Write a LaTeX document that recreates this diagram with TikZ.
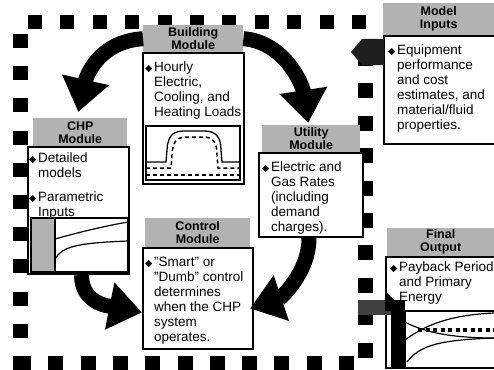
\documentclass[tikz,border=0pt]{standalone}
\usepackage{fontspec}
\setmainfont{Liberation Sans}
\newfontfamily\symf{DejaVu Sans}
\usetikzlibrary{arrows.meta}
\newcommand\dia{\makebox[9pt][l]{\symf\fontsize{9.5}{9.5}\selectfont\raisebox{0.3pt}{◆}}}
\newcommand\ind{\hspace*{9pt}}
\tikzset{
  hdr/.style={fill=black!30, font=\fontsize{12.5}{13}\selectfont\bfseries, align=center, inner sep=0pt, anchor=north west},
  modbox/.style={draw, line width=2pt, fill=white, inner sep=0pt, anchor=north west},
  txt/.style={anchor=north west, align=left, inner sep=0pt, font=\fontsize{13.5}{15}\selectfont},
  bigarr/.style={line width=15pt, -{Triangle[length=33pt,width=46pt]}},
  sq/.style={fill=black},
  thinframe/.style={line width=1.1pt},
  dash2/.style={line width=1.5pt, dash pattern=on 4pt off 3pt}
}
\begin{document}
\begin{tikzpicture}[x=1pt,y=-1pt]
\useasboundingbox (0,0) rectangle (494,369);
% dashed square boundary
\foreach \i in {0,...,10} {
  \fill[sq] (35+32.4*\i-7,15) rectangle ++(14,14);
  \fill[sq] (13,41+32.2*\i-7) rectangle ++(15,14);
  \fill[sq] (23+32.3*\i-7,356) rectangle ++(15,14);
}
\foreach \i in {0,...,9} {
  \fill[sq] (358,58+32.4*\i-7) rectangle ++(15,15);
}
% Building module
\node[modbox, minimum width=101pt, minimum height=131pt] (bb) at (142,52) {};
\node[hdr, minimum width=100pt, minimum height=27pt] (bh) at (143,25) {Building\\Module};
\node[txt] (bt) at (145,62) {\dia Hourly\\\ind Electric,\\\ind Cooling, and\\\ind Heating Loads};
\draw[thinframe] (146,126) rectangle (240,180);
\draw[line width=1.3pt] (146,162) -- (166,162) -- (167,150) .. controls (168,133) and (175,131) .. (186,131) -- (204,131) .. controls (215,131) and (221,136) .. (221,150) -- (222,162) -- (240,162);
\draw[dash2] (146,168) -- (171,168) -- (172,155) .. controls (173,140) and (177,137) .. (188,137) -- (203,137) .. controls (213,137) and (217,142) .. (217,155) -- (218,168) -- (240,168);
\draw[dash2] (146,175) -- (240,175);
% CHP module
\node[modbox, minimum width=101pt, minimum height=127pt] (cb0) at (27,146) {};
\node[hdr, minimum width=94pt, minimum height=28pt] (ch) at (33,118) {CHP\\Module};
\node[txt] (ct) at (29,153) {\dia Detailed\\\ind models\\[9pt]\dia Parametric\\\ind Inputs};
\fill[white] (31,218) rectangle (128,272);
\fill[black!30] (31,218) rectangle (55,272);
\draw[thinframe] (31,218) rectangle (128,272);
\draw[thinframe] (55,218) -- (55,272);
\draw[line width=1.2pt] (55,239) .. controls (80,232) and (105,226) .. (128,222);
\draw[line width=1.2pt] (55,259) .. controls (62,247) and (75,243) .. (128,241);
% Utility module
\node[modbox, minimum width=104pt, minimum height=84pt] (ub) at (258,152) {};
\node[hdr, minimum width=98pt, minimum height=27pt] (uh) at (262,125) {Utility\\Module};
\node[txt] (ut) at (262,162) {\dia Electric and\\\ind Gas Rates\\\ind (including\\\ind demand\\\ind charges).};
% Model inputs
\node[modbox, minimum width=115pt, minimum height=108pt] (mb) at (383,35) {};
\node[hdr, minimum width=111pt, minimum height=32pt] (mh) at (383,3) {Model\\Inputs};
\node[txt] (mt) at (388,45) {\dia Equipment\\\ind performance\\\ind and cost\\\ind estimates, and\\\ind material/fluid\\\ind properties.};
\fill[black!88] (351,52) -- (362,39) -- (384,39) -- (384,65) -- (362,65) -- cycle;
% Control module
\node[modbox, minimum width=110pt, minimum height=101pt] (cb) at (142,247) {};
\node[hdr, minimum width=105pt, minimum height=29pt] (kh) at (145,218) {Control\\Module};
\node[txt] (kt) at (145,257) {\dia "Smart" or\\\ind "Dumb" control\\\ind determines\\\ind when the CHP\\\ind system\\\ind operates.};
% Final output
\node[modbox, minimum width=113pt, minimum height=111pt] (fb) at (385,256) {};
\node[hdr, minimum width=107pt, minimum height=28pt] (fh) at (387,228) {Final\\Output};
\node[txt] (ft) at (390,262) {\dia Payback Period\\\ind and Primary\\\ind Energy};
\draw[thinframe] (405,311) rectangle (497,368);
\draw[line width=1.2pt] (405,340) .. controls (425,325) and (450,315) .. (494,313);
\draw[line width=1.2pt] (405,322) .. controls (425,333) and (455,338) .. (494,338);
\draw[line width=1.2pt] (407,362) .. controls (420,345) and (440,340) .. (494,338);
\draw[line width=4pt, dash pattern=on 4pt off 3.5pt] (418,330) -- (494,330);
\fill[black!75] (358,300) rectangle (392,315);
\fill[black] (391,300) rectangle (405,367);
\fill[black] (385,291) -- (405,311) -- (385,311) -- cycle;
% big curved arrows
\draw[bigarr] (bh.west) .. controls +(-45,3) and +(8,-35) .. ([xshift=-2pt,yshift=6pt]ch.north);
\draw[bigarr] (bh.east) .. controls +(40,3) and +(-6,-40) .. ([xshift=-3pt,yshift=2pt]uh.north);
\draw[bigarr] ([xshift=3pt]cb0.south) .. controls +(0,30) and +(-30,-6) .. ([yshift=-14pt]cb.west);
\draw[bigarr] ([xshift=-2pt]ub.south) .. controls +(0,35) and +(30,-10) .. ([xshift=-4pt,yshift=-10pt]cb.east);
\end{tikzpicture}
\end{document}
